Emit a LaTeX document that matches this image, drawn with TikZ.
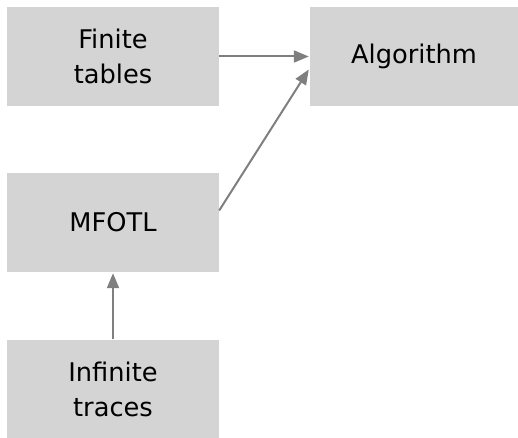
\documentclass[tikz,border=0pt]{standalone}
\usepackage{fontspec}
\setmainfont{DejaVu Sans}
\usetikzlibrary{arrows.meta}
\definecolor{boxgray}{HTML}{D4D4D4}
\definecolor{arrgray}{HTML}{7F7F7F}
\begin{document}
\begin{tikzpicture}[x=1pt,y=1pt,
  box/.style={fill=boxgray,draw=none,minimum width=212pt,minimum height=99pt,inner sep=0pt,align=center,text=black,font=\fontsize{25.7}{35}\selectfont},
  conn/.style={draw=arrgray,line width=2pt,-{Triangle[length=15pt,width=12pt]}}]
\useasboundingbox (0,0) rectangle (518,437);
\node[box] (ft) at (113,380.5) {Finite\\tables};
\node[box,minimum width=208pt] (alg) at (414,380.5) {Algorithm};
\node[box] (mf) at (113,214.5) {MFOTL};
\node[box] (it) at (113,48) {Infinite\\traces};
\draw[conn] (ft.east) -- ([xshift=-1pt]alg.west);
\draw[conn] ([yshift=12pt]mf.east) -- ([xshift=-1pt,yshift=-13pt]alg.west);
\draw[conn] (it.north) -- ([yshift=-1pt]mf.south);
\end{tikzpicture}
\end{document}
